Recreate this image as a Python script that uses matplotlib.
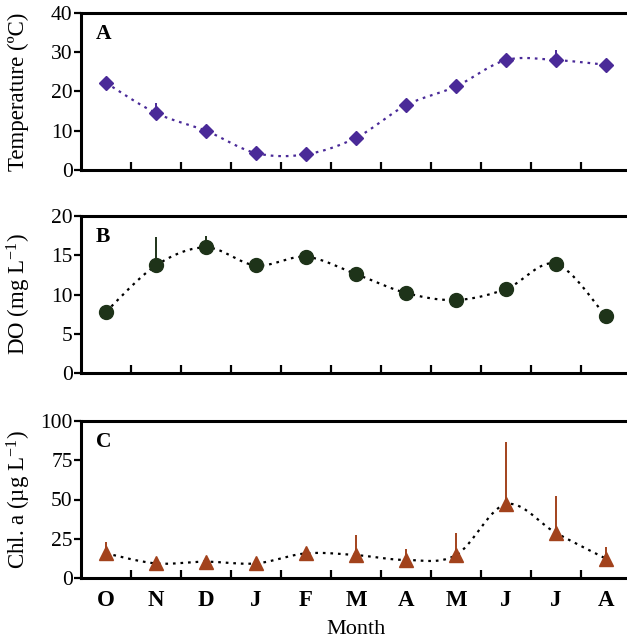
import numpy as np
import matplotlib.pyplot as plt

plt.rcParams['font.family'] = ['Liberation Serif', 'DejaVu Serif']
plt.rcParams['mathtext.fontset'] = 'custom'
plt.rcParams['mathtext.rm'] = 'Liberation Serif'
plt.rcParams['mathtext.it'] = 'Liberation Serif:italic'

months = ['O', 'N', 'D', 'J', 'F', 'M', 'A', 'M', 'J', 'J', 'A']

temp = [22.2, 14.5, 10.0, 4.3, 4.0, 8.2, 16.5, 21.3, 28.0, 28.0, 26.8]
temp_err = [0.4, 2.5, 0.4, 0.3, 0.3, 0.4, 0.4, 0.4, 0.4, 2.6, 0.4]

do = [7.8, 13.7, 16.0, 13.7, 14.8, 12.6, 10.2, 9.3, 10.7, 13.9, 7.2]
do_err = [0.3, 3.6, 1.4, 0.3, 0.3, 0.3, 0.3, 0.3, 0.4, 0.3, 0.3]

chl = [15.7, 9.3, 10.4, 9.3, 15.7, 14.6, 11.5, 14.6, 47.0, 28.7, 12.3]
chl_err = [7.3, 1.0, 1.0, 1.0, 1.0, 12.8, 7.0, 14.3, 39.4, 23.7, 7.7]


def smooth(x, y, n=30):
    # cubic Bezier through every point, Catmull-Rom style tangents
    x = np.asarray(x, float)
    y = np.asarray(y, float)
    px = np.concatenate([[x[0]], x, [x[-1]]])
    py = np.concatenate([[y[0]], y, [y[-1]]])
    xs, ys = [], []
    t = np.linspace(0, 1, n)
    for i in range(1, len(px) - 2):
        p0 = np.array([px[i], py[i]])
        p3 = np.array([px[i + 1], py[i + 1]])
        c1 = p0 + (p3 - np.array([px[i - 1], py[i - 1]])) / 6
        c2 = p3 - (np.array([px[i + 2], py[i + 2]]) - p0) / 6
        b = ((1 - t) ** 3)[:, None] * p0 + (3 * (1 - t) ** 2 * t)[:, None] * c1 \
            + (3 * (1 - t) * t ** 2)[:, None] * c2 + (t ** 3)[:, None] * p3
        xs.extend(b[:, 0])
        ys.extend(b[:, 1])
    return xs, ys


fig = plt.figure(figsize=(6.27, 6.39), dpi=100)
w = 550 / 627
h = 157 / 639
panels = [
    (fig.add_axes([81 / 627, (639 - 170) / 639, w, h]), temp, temp_err, 'D', 7.3,
     '#4a2a98', '#4a2a98', (0, 40, 10), 'Temperature (ºC)', 'A', -0.094),
    (fig.add_axes([81 / 627, (639 - 373) / 639, w, h]), do, do_err, 'o', 10,
     '#1e3319', 'black', (0, 20, 5), 'DO (mg L$^{-1}$)', 'B', -0.088),
    (fig.add_axes([81 / 627, (639 - 578) / 639, w, h]), chl, chl_err, '^', 10.5,
     '#a2421c', 'black', (0, 100, 25), 'Chl. a (µg L$^{-1}$)', 'C', -0.088),
]

x = np.arange(len(months))
for ax, vals, err, mk, ms, col, lcol, (lo, hi, step), ylab, letter, lx in panels:
    sx, sy = smooth(x, vals)
    ax.plot(sx, sy, color=lcol, lw=1.6, linestyle=(0, (1.2, 2.2)), zorder=2)
    ax.errorbar(x, vals, yerr=[np.zeros(len(err)), err], fmt='none',
                ecolor=col, elinewidth=1.4, capsize=0, zorder=3)
    ax.plot(x, vals, linestyle='none', marker=mk, ms=ms, color=col,
            markeredgecolor=col, zorder=4)

    ax.set_xlim(-0.5, 10.5)
    ax.set_ylim(lo, hi)
    ax.set_yticks(np.arange(lo, hi + step / 2, step))
    ax.set_xticks(x)
    ax.set_xticks(x[:-1] + 0.5, minor=True)
    ax.tick_params(axis='x', which='major', length=0, pad=9)
    ax.tick_params(axis='x', which='minor', direction='in', length=6, width=1.6)
    ax.tick_params(axis='y', direction='out', length=5, width=1.6, pad=1,
                   labelsize=15.5)
    for s in ('left', 'bottom', 'top'):
        ax.spines[s].set_linewidth(2.2)
    ax.spines['right'].set_visible(False)

    ax.set_ylabel(ylab, fontsize=16.5)
    ax.yaxis.set_label_coords(lx, 0.5)
    ax.text(0.027, 0.93, letter, transform=ax.transAxes, fontsize=15.5,
            fontweight='bold', va='top', ha='left')

    if letter == 'C':
        ax.set_xticklabels(months, fontsize=16.5, fontweight='bold')
        ax.set_xlabel('Month', fontsize=16, labelpad=6)
    else:
        ax.set_xticklabels([])

fig.savefig('out.png', dpi=100)
